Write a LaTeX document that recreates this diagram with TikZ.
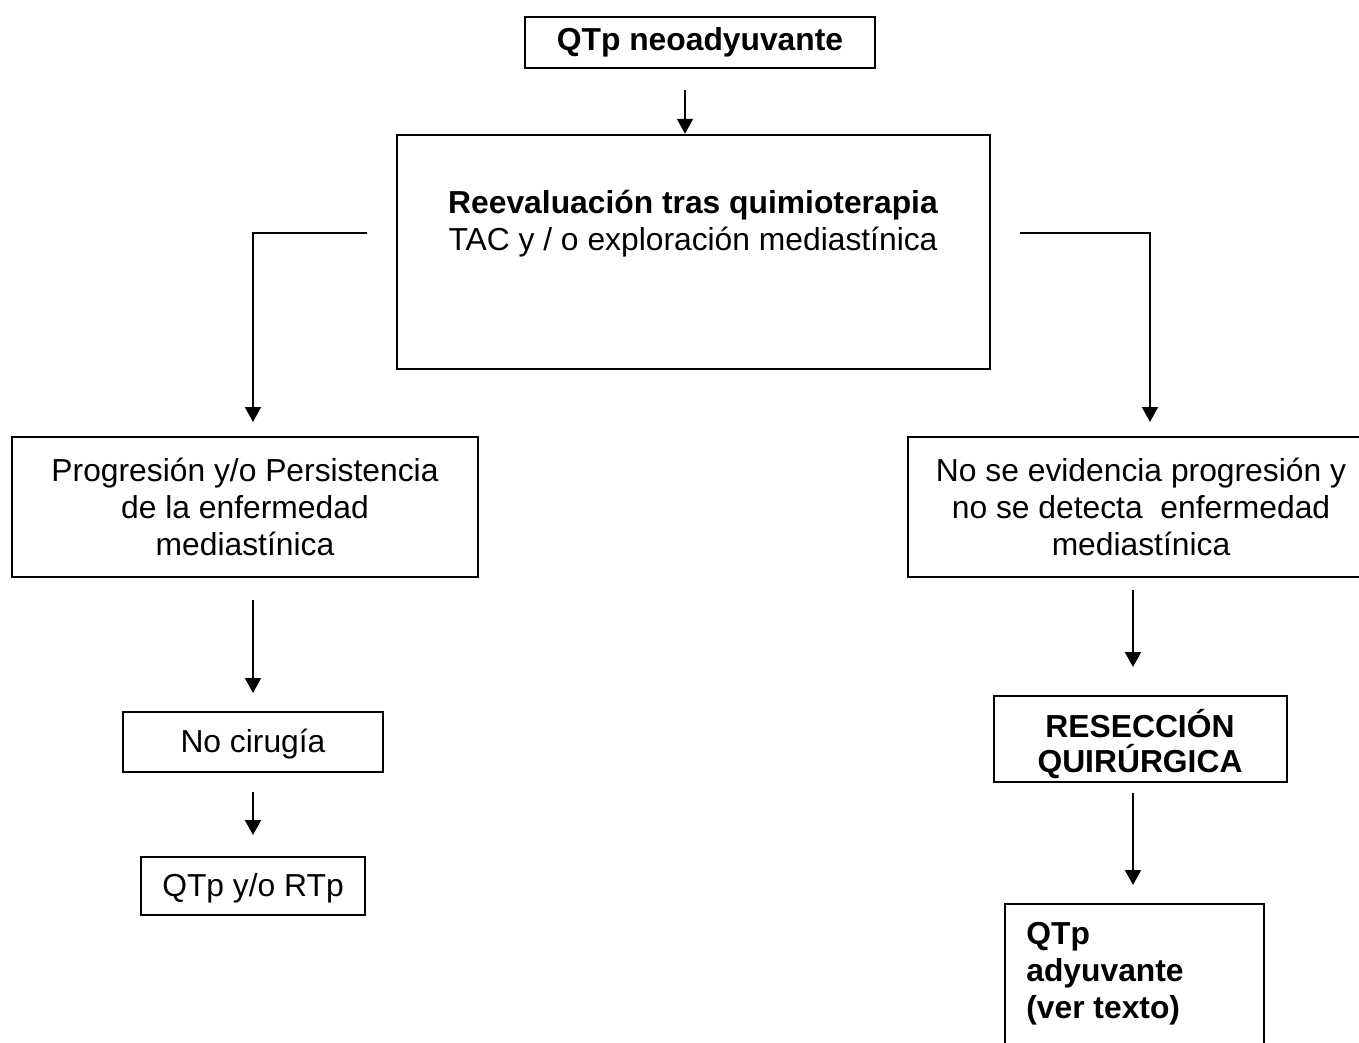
\documentclass[tikz,border=0pt]{standalone}
\usepackage{fontspec}
\setmainfont{Liberation Sans}
\usetikzlibrary{arrows.meta,fit}
\begin{document}
\begin{tikzpicture}[x=0.02cm,y=-0.02cm,
  txt/.style={font=\fontsize{18.1}{21}\selectfont, align=center, inner sep=0pt},
  box/.style={draw, line width=1.4pt, inner sep=0pt},
  arr/.style={line width=1.1pt, -{Triangle[width=0.32cm,length=0.3cm]}}]
\useasboundingbox (0,0) rectangle (1359,1043);
% boxes
\node[box, fit={(525,17) (875,68)}] (neo) {};
\node[txt] (neot) at (700,42) {\bfseries QTp neoadyuvante};
\node[box, fit={(397,135) (990,369)}] (reev) {};
\node[txt] (reevt) at (693,224) {\bfseries Reevaluación tras quimioterapia\\TAC y / o exploración mediastínica};
\node[box, fit={(12,437) (478,577)}] (prog) {};
\node[txt] (progt) at (245,507) {Progresión y/o Persistencia\\de la enfermedad\\mediastínica};
\node[box, fit={(908,437) (1374,577)}] (noev) {};
\node[txt] (noevt) at (1141,507) {No se evidencia progresión y\\no se detecta\ \ enfermedad\\mediastínica};
\node[box, fit={(123,712) (383,772)}] (nocir) {};
\node[txt] (nocirt) at (253,744) {No cirugía};
\node[box, fit={(141,857) (365,915)}] (qtrt) {};
\node[txt] (qtrtt) at (253,888) {QTp y/o RTp};
\node[box, fit={(994,696) (1287,782)}] (resec) {};
\node[txt, font=\fontsize{18.1}{19.5}\selectfont] (resect) at (1140,744) {\bfseries RESECCIÓN\\\bfseries QUIRÚRGICA};
\node[box, fit={(1005,904) (1264,1070)}] (adyu) {};
\node[txt, anchor=north west, align=left] (adyut) at (1026,922) {\bfseries QTp\\\bfseries adyuvante\\\bfseries (ver texto)};
% connector endpoints
\coordinate (a1) at (685,90);
\coordinate (l1) at (367,233);
\coordinate (l2) at (253,422);
\coordinate (r1) at (1020,233);
\coordinate (r2) at (1150,422);
\coordinate (p1) at (253,600);
\coordinate (p2) at (253,693);
\coordinate (n1) at (253,792);
\coordinate (n2) at (253,835);
\coordinate (e1) at (1133,590);
\coordinate (e2) at (1133,667);
\coordinate (s1) at (1133,793);
\coordinate (s2) at (1133,885);
% connectors
\draw[arr] (a1) -- (a1 |- reev.north);
\draw[arr] (l1) -| (l2);
\draw[arr] (r1) -| (r2);
\draw[arr] (p1) -- (p2);
\draw[arr] (n1) -- (n2);
\draw[arr] (e1) -- (e2);
\draw[arr] (s1) -- (s2);
\end{tikzpicture}
\end{document}
